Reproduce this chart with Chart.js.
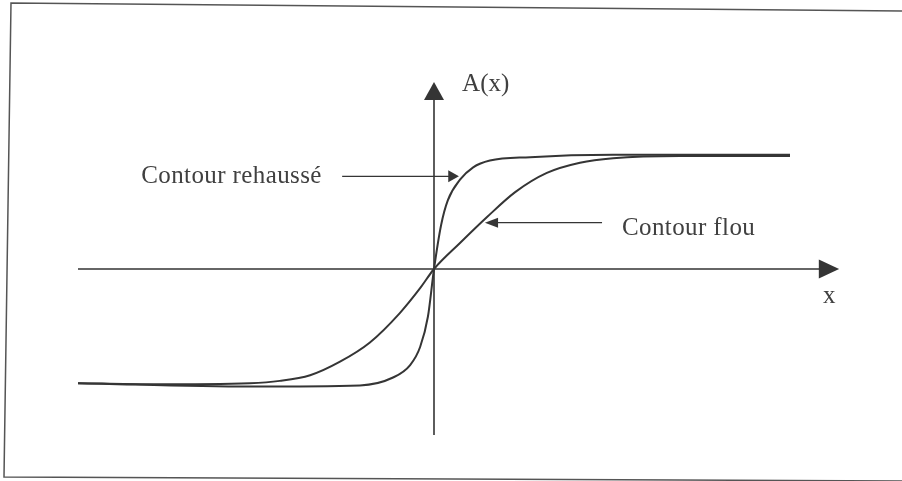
<!DOCTYPE html>
<html>
<head>
<meta charset="utf-8">
<title>Contour</title>
<script src="https://cdn.jsdelivr.net/npm/chart.js@4.4.0/dist/chart.umd.min.js"></script>
<style>
  html, body { margin: 0; padding: 0; background: #fff; }
  #wrap { width: 902px; height: 481px; position: relative; }
</style>
</head>
<body>
<div id="wrap"><canvas id="contour"></canvas></div>
<script>
// contour flou (blurred edge) : x, A(x)
var flouX = [-10, -7.98, -5.17, -4.33, -3.48, -2.64, -1.80, -0.96, -0.39, 0, 0.73, 1.49, 2.28, 3.17, 4.10, 5.03, 6.91, 10];
var flouY = [-1.01, -1.02, -1.01, -0.99, -0.94, -0.82, -0.65, -0.39, -0.17, 0, 0.23, 0.46, 0.68, 0.85, 0.94, 0.98, 1.0, 1.0];

// contour rehaussé (enhanced edge)
var rehausseX = [-10, -5.17, -2.08, -1.15, -0.67, -0.39, -0.17, 0, 0.20, 0.39, 0.73, 1.10, 1.57, 2.70, 5.03, 10];
var rehausseY = [-1.01, -1.04, -1.03, -0.96, -0.85, -0.69, -0.42, 0, 0.39, 0.61, 0.79, 0.90, 0.96, 0.99, 1.01, 1.01];

var labelFlou = "Contour flou";
var labelRehausse = "Contour rehaussé";
var labelY = "A(x)";
var labelX = "x";

function pts(xs, ys) {
  return xs.map(function (x, i) { return { x: x, y: ys[i] }; });
}

var ink = "#353535";

function tri(ctx, x1, y1, x2, y2, x3, y3) {
  ctx.beginPath();
  ctx.moveTo(x1, y1); ctx.lineTo(x2, y2); ctx.lineTo(x3, y3);
  ctx.closePath();
  ctx.fill();
}

var schema = {
  id: "schema",
  beforeDatasetsDraw: function (chart) {
    var ctx = chart.ctx, sx = chart.scales.x, sy = chart.scales.y;
    var px = function (v) { return sx.getPixelForValue(v); };
    var py = function (v) { return sy.getPixelForValue(v); };
    ctx.save();
    // cadre
    ctx.strokeStyle = "#555";
    ctx.lineWidth = 1.5;
    ctx.beginPath();
    ctx.moveTo(902, 11); ctx.lineTo(11, 3); ctx.lineTo(4, 477); ctx.lineTo(902, 481);
    ctx.stroke();
    // axes
    ctx.strokeStyle = ink;
    ctx.fillStyle = ink;
    ctx.lineWidth = 1.6;
    ctx.beginPath();
    ctx.moveTo(px(-10), py(0)); ctx.lineTo(px(10.9), py(0));
    ctx.moveTo(px(0), py(-1.47)); ctx.lineTo(px(0), py(1.55));
    ctx.stroke();
    tri(ctx, px(11.38), py(0), px(10.81), py(0) - 9.5, px(10.81), py(0) + 9.5);
    tri(ctx, px(0), py(1.655), px(0) - 10, py(1.496), px(0) + 10, py(1.496));
    // fleches des etiquettes
    ctx.lineWidth = 1.4;
    ctx.beginPath();
    ctx.moveTo(px(-2.58), py(0.82)); ctx.lineTo(px(0.42), py(0.82));
    ctx.moveTo(px(4.72), py(0.41)); ctx.lineTo(px(1.75), py(0.41));
    ctx.stroke();
    tri(ctx, px(0.70), py(0.82), px(0.40), py(0.82) - 6, px(0.40), py(0.82) + 6);
    tri(ctx, px(1.43), py(0.41), px(1.80), py(0.41) - 5, px(1.80), py(0.41) + 5);
    // textes
    ctx.fillStyle = "#404040";
    ctx.font = "25px 'Liberation Serif', 'DejaVu Serif', serif";
    ctx.letterSpacing = "0.4px";
    ctx.textBaseline = "alphabetic";
    ctx.textAlign = "right";
    ctx.fillText(labelRehausse, px(-3.15), py(0.76));
    ctx.textAlign = "left";
    ctx.fillText(labelFlou, px(5.28), py(0.30));
    ctx.letterSpacing = "0px";
    ctx.fillText(labelY, px(0.79), py(1.575));
    ctx.fillText(labelX, px(10.93), py(-0.30));
    ctx.restore();
  }
};

var ctx = document.getElementById("contour").getContext("2d");
new Chart(ctx, {
  type: "scatter",
  data: {
    datasets: [
      {
        label: labelFlou,
        data: pts(flouX, flouY),
        showLine: true,
        borderColor: ink,
        borderWidth: 2,
        pointRadius: 0,
        cubicInterpolationMode: "monotone",
        fill: false
      },
      {
        label: labelRehausse,
        data: pts(rehausseX, rehausseY),
        showLine: true,
        borderColor: ink,
        borderWidth: 2,
        pointRadius: 0,
        cubicInterpolationMode: "monotone",
        fill: false
      }
    ]
  },
  options: {
    responsive: true,
    maintainAspectRatio: false,
    animation: false,
    layout: { padding: 0 },
    plugins: { legend: { display: false }, tooltip: { enabled: false } },
    scales: {
      x: { type: "linear", display: false, min: -434 / 35.6, max: 468 / 35.6 },
      y: { type: "linear", display: false, min: -212 / 113, max: 269 / 113 }
    }
  },
  plugins: [schema]
});
</script>
</body>
</html>
